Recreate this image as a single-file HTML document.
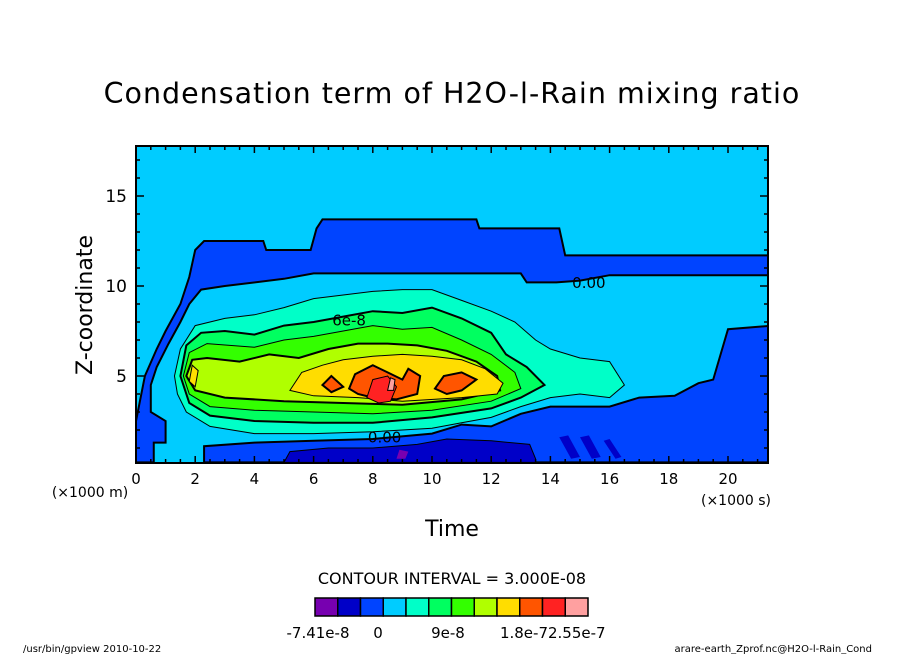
<!DOCTYPE html>
<html><head><meta charset="utf-8"><style>
body{margin:0;background:#fff;}
svg text{font-family:"DejaVu Sans","Liberation Sans",sans-serif;fill:#000;}
</style></head><body>
<svg width="904" height="654" viewBox="0 0 904 654" xmlns="http://www.w3.org/2000/svg">
<text x="452" y="103" font-size="28.5" letter-spacing="1" text-anchor="middle">Condensation term of H2O-l-Rain mixing ratio</text>
<defs><clipPath id="pc"><rect x="136" y="146" width="632" height="317"/></clipPath></defs>
<g id="plot" clip-path="url(#pc)"></g>
<g id="axes"></g>
<text x="90" y="497" font-size="14" text-anchor="middle">(×1000 m)</text>
<text x="736" y="505" font-size="14" text-anchor="middle">(×1000 s)</text>
<text x="452" y="536" font-size="22" text-anchor="middle">Time</text>
<text transform="translate(92,305) rotate(-90)" font-size="22" text-anchor="middle">Z-coordinate</text>
<text x="452" y="584" font-size="16" text-anchor="middle">CONTOUR INTERVAL = 3.000E-08</text>
<g id="cbar"></g>
<text x="23" y="652" font-size="10">/usr/bin/gpview  2010-10-22</text>
<text x="872" y="652" font-size="10" text-anchor="end">arare-earth_Zprof.nc@H2O-l-Rain_Cond</text>
</svg>
<script>
const colors=["#7700b0","#0000c8","#0044ff","#00ccff","#00ffc8","#00ff60","#33ff00","#b0ff00","#ffdd00","#ff5500","#ff2222","#ffa0a0"];
const cbarLabels=["-7.41e-8","0","9e-8","1.8e-7","2.55e-7"];
const xTicks=[0,2,4,6,8,10,12,14,16,18,20];
const yTicks=[5,10,15];
const upperBlue=[[0,0.2],[0,2.5],[0.3,5],[0.7,6.5],[1.0,7.5],[1.5,9],[1.8,10.5],[2.0,12.0],[2.3,12.5],[4.3,12.5],[4.4,12.0],[5.9,12.0],[6.1,13.2],[6.3,13.7],[11.5,13.7],[11.6,13.2],[14.3,13.2],[14.5,11.7],[21.5,11.7],[21.5,10.6],[16,10.6],[15,10.3],[14.2,10.2],[13.2,10.2],[13,10.7],[6,10.7],[5,10.4],[3,10.0],[2.2,9.8],[1.8,9.0],[1.5,8.0],[1.1,6.8],[0.7,5.5],[0.5,4.5],[0.5,3],[1.0,2.5],[1.0,1.3],[0.6,1.3],[0.6,0.2]];
const bottomBlue=[[2.3,0.2],[2.3,1.1],[4,1.3],[6,1.4],[8,1.5],[10,1.8],[11,2.3],[12,2.2],[13,2.9],[14,3.3],[16,3.3],[17,3.8],[18.2,3.9],[19,4.6],[19.5,4.8],[20.0,7.6],[21.5,7.8],[21.5,0.2]];
const darkBlue=[[5,0.2],[5.2,0.8],[6.5,1.0],[8,1.0],[9.5,1.2],[10.5,1.5],[12,1.4],[13.3,1.2],[13.5,0.4],[13.5,0.2]];
const stripe1=[[14.3,1.6],[14.6,1.7],[15.0,0.5],[14.7,0.4]];
const stripe2=[[15.0,1.6],[15.3,1.7],[15.7,0.5],[15.4,0.4]];
const stripe3=[[15.8,1.4],[16.0,1.5],[16.4,0.5],[16.2,0.4]];
const aqua=[[1.3,5],[1.5,6.5],[2,7.8],[3,8.2],[4,8.4],[5,8.8],[6,9.3],[7,9.5],[8,9.7],[9,9.8],[10,9.8],[11,9.2],[12,8.6],[12.8,8.0],[13.5,7],[14,6.5],[15,6],[16,5.8],[16.5,4.5],[16,3.8],[15,4],[14,3.8],[13,3.3],[12,2.7],[11,2.4],[10,2.1],[8,1.9],[6,1.8],[4,1.8],[2.5,2.2],[1.7,3],[1.4,4]];
const green1=[[1.5,5],[1.7,6.7],[2.2,7.4],[3,7.5],[4,7.3],[5,7.8],[6,8.0],[7,8.3],[8,8.6],[9,8.5],[10,8.8],[11,8.2],[12,7.4],[12.5,6.2],[13.2,5.5],[13.8,4.5],[13,3.8],[12,3.2],[10,2.7],[8,2.4],[6,2.4],[4,2.5],[2.5,2.8],[1.8,3.5]];
const green2=[[1.6,5],[1.8,6.3],[2.4,6.8],[4,6.6],[5,7.0],[6,7.2],[7,7.5],[8,7.8],[9,7.6],[10,7.7],[11,7.0],[12,6.2],[12.8,5.2],[13,4.3],[12,3.6],[10,3.1],[8,2.9],[6,3.0],[4,3.1],[2.5,3.3],[1.8,4]];
const ygreen=[[1.7,5],[1.9,5.9],[2.4,6.0],[3.5,5.8],[4.5,6.2],[5.5,6.0],[6.5,6.5],[7.5,6.8],[8.5,6.8],[9.5,6.7],[10.5,6.4],[11.5,5.8],[12.2,5.0],[12.3,4.2],[11,3.7],[9,3.4],[7,3.5],[5,3.6],[3,3.8],[2,4.2]];
const yellowL=[[1.8,4.7],[1.9,5.6],[2.1,5.3],[2.0,4.4]];
const yellowM=[[5.2,4.2],[5.6,5.2],[6.3,5.6],[7,5.9],[8,6.1],[9,6.2],[10,6.1],[11,5.9],[11.8,5.4],[12.4,4.6],[12.2,4.0],[11,3.8],[9,3.6],[7.5,3.8],[6,3.9]];
const orange1=[[6.3,4.5],[6.6,5.0],[7,4.4],[6.6,4.1]];
const orange2=[[7.2,4.3],[7.4,5.1],[8,5.6],[8.5,5.2],[9,4.8],[9.2,5.4],[9.6,5.0],[9.5,4.0],[8.8,3.7],[8,3.8],[7.5,4.0]];
const orange3=[[10.1,4.3],[10.4,5.0],[11,5.2],[11.5,4.8],[11,4.2],[10.5,4.0]];
const red1=[[7.8,3.8],[8,4.8],[8.5,5.0],[8.8,4.4],[8.6,3.6],[8.2,3.5]];
const pink1=[[8.5,4.2],[8.6,4.9],[8.75,4.8],[8.7,4.2]];
const purple1=[[8.8,0.4],[8.9,0.9],[9.2,0.8],[9.1,0.4]];
const layers=[[upperBlue,2,2],[bottomBlue,2,2],[darkBlue,1,1],[stripe1,1,0],[stripe2,1,0],[stripe3,1,0],[purple1,0,0],[aqua,4,1],[green1,5,2],[green2,6,1],[ygreen,7,2],[yellowL,8,1],[yellowM,8,1],[orange1,9,2],[orange2,9,2],[orange3,9,2],[red1,10,1],[pink1,11,1]];
const X0=136,XS=29.6,Y0=466,YS=18;
const sx=t=>X0+t*XS, sy=z=>Y0-z*YS;
const NS="http://www.w3.org/2000/svg";
function mk(tag,attrs,parent){const e=document.createElementNS(NS,tag);for(const k in attrs)e.setAttribute(k,attrs[k]);parent.appendChild(e);return e;}
const plot=document.getElementById('plot');
const bg=mk('rect',{x:136,y:146,width:632,height:317,fill:colors[3]},plot);


layers.forEach((L,i)=>{
  const p=mk('polygon',{points:L[0].map(d=>sx(d[0])+','+sy(d[1])).join(' '),fill:colors[L[1]],stroke:'#000','stroke-width':L[2]},plot);
  
  
});
const labs=[["6e-8",7.2,7.8],["0.00",15.3,9.9],["0.00",8.4,1.3]];
labs.forEach(l=>{const t=mk('text',{x:sx(l[1]),y:sy(l[2]),'font-size':15,'text-anchor':'middle'},plot);t.textContent=l[0];

});
const ax=document.getElementById('axes');
const fr=mk('rect',{x:136,y:146,width:632,height:317,fill:'none',stroke:'#000','stroke-width':2},ax);


for(let t=0;t<=21.3;t+=0.5){const major=Math.abs(t%2)<1e-6;const L=major?7:4;
 mk('line',{x1:sx(t),x2:sx(t),y1:463,y2:463-L,stroke:'#000','stroke-width':1.5},ax);
 mk('line',{x1:sx(t),x2:sx(t),y1:146,y2:146+L,stroke:'#000','stroke-width':1.5},ax);}
for(let z=1;z<=17;z++){const L=z%5===0?8:4;
 mk('line',{x1:136,x2:136+L,y1:sy(z),y2:sy(z),stroke:'#000','stroke-width':1.5},ax);
 mk('line',{x1:768,x2:768-L,y1:sy(z),y2:sy(z),stroke:'#000','stroke-width':1.5},ax);}
xTicks.forEach(v=>{const t=mk('text',{x:sx(v),y:484,'font-size':15,'text-anchor':'middle'},ax);t.textContent=v;

});
yTicks.forEach(v=>{const t=mk('text',{x:127,y:sy(v)+6,'font-size':17,'text-anchor':'end'},ax);t.textContent=v;

});
const cb=document.getElementById('cbar');const bw=273/colors.length;
colors.forEach((c,i)=>{const r=mk('rect',{x:315+i*bw,y:598,width:bw,height:18,fill:c,stroke:'#000','stroke-width':1.5},cb);

});
const cbx=[[318,'middle'],[378,'middle'],[448,'middle'],[548,'end'],[548,'start']];
cbarLabels.forEach((s,i)=>{const t=mk('text',{x:cbx[i][0],y:638,'font-size':15,'text-anchor':cbx[i][1]},cb);t.textContent=s;

});
</script>
</body></html>
